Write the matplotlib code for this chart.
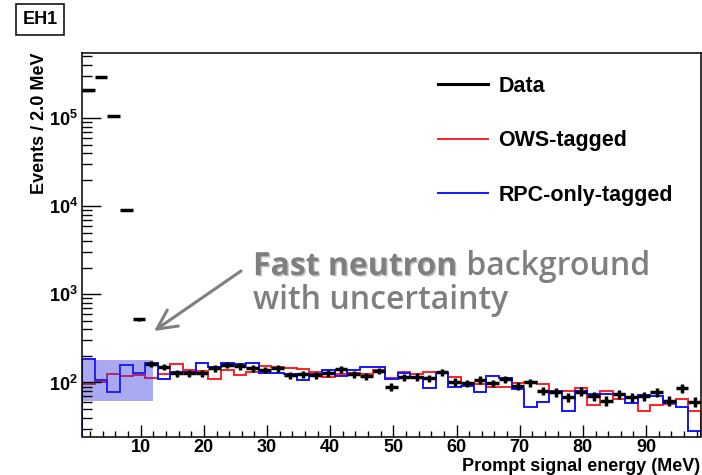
import numpy as np
import matplotlib
matplotlib.use("Agg")
import matplotlib.pyplot as plt
from matplotlib.ticker import MultipleLocator, LogLocator, NullFormatter, FuncFormatter
from matplotlib.lines import Line2D
import matplotlib.patheffects as pe

plt.rcParams['font.family'] = ['Liberation Sans', 'DejaVu Sans']
plt.rcParams['font.weight'] = 'bold'
plt.rcParams['mathtext.fontset'] = 'custom'
plt.rcParams['mathtext.rm'] = 'Liberation Sans:bold'
plt.rcParams['mathtext.bf'] = 'Liberation Sans:bold'
plt.rcParams['mathtext.it'] = 'Liberation Sans:bold'

# 2 MeV bins from 0.7 to 98.7 MeV
edges = 0.7 + 2.0 * np.arange(50)

data = [2.06e5, 2.91e5, 1.05e5, 9100, 521, 162, 151, 127, 127, 127,
        145, 158, 152, 145, 139, 145, 122, 124, 122, 127,
        141, 124, 118, 136, 90, 115, 116, 112, 130, 102,
        98, 107, 98, 109, 92, 100, 81, 77, 68, 79,
        70, 62, 74, 68, 70, 77, 62, 86, 60]

ows = [96, 100, 124, 119, 121, 113, 125, 161, 137, 135,
       109, 139, 122, 132, 152, 150, 145, 142, 130, 114,
       124, 127, 124, 139, 111, 130, 125, 130, 127, 115,
       98, 96, 88, 88, 98, 101, 95, 80, 81, 87,
       55, 81, 65, 69, 47, 55, 57, 65, 48]

rpc = [185, 107, 77, 157, 127, 168, 110, 131, 131, 165,
       148, 168, 161, 165, 129, 127, 124, 107, 124, 139,
       118, 139, 151, 151, 109, 127, 116, 87, 127, 90,
       92, 79, 118, 112, 84, 53, 60, 80, 48, 80,
       75, 74, 75, 59, 72, 71, 59, 53, 28]

# fast neutron estimate band (MeV range, event range)
band_x = [0.7, 12.0]
band_lo = 62
band_hi = 180

data = np.array(data, dtype=float)
centers = 0.5 * (edges[:-1] + edges[1:])
errs = np.sqrt(data)

fig = plt.figure(figsize=(7.02, 4.75), dpi=100)
ax = fig.add_axes([82 / 702, 1 - 436.5 / 475, (701 - 82) / 702, (436.5 - 52.7) / 475])

ax.stairs(ows, edges, color='#ff2020', lw=1.4, label='OWS-tagged')
ax.stairs(rpc, edges, color='#1515ff', lw=1.4, label='RPC-only-tagged')
ax.fill_between(band_x, band_lo, band_hi, color='#3434e0', alpha=0.42, lw=0)
ax.errorbar(centers, data, xerr=1.0, yerr=errs, fmt='none', ecolor='k',
            elinewidth=2.5, capsize=0)

ax.set_yscale('log')
ax.set_xlim(edges[0], edges[-1])
ax.set_ylim(24.4, 5.5e5)

ax.xaxis.set_major_locator(MultipleLocator(10))
ax.xaxis.set_minor_locator(MultipleLocator(2))
ax.yaxis.set_major_locator(LogLocator(base=10))
ax.yaxis.set_minor_locator(LogLocator(base=10, subs=np.arange(2, 10)))
ax.yaxis.set_minor_formatter(NullFormatter())
ax.yaxis.set_major_formatter(FuncFormatter(lambda v, p: r'$10^{%d}$' % round(np.log10(v))))

ax.tick_params(which='both', direction='in', top=False, right=False,
               width=1.0, labelsize=13)
ax.tick_params(axis='x', which='major', length=8.5, pad=2)
ax.tick_params(axis='x', which='minor', length=4.5)
ax.tick_params(axis='y', which='major', length=13.5, pad=3)
ax.tick_params(axis='y', which='minor', length=7)
for s in ax.spines.values():
    s.set_linewidth(1.1)

fig.text(40 / 702, 1 - 52 / 475, 'Events / 2.0 MeV', rotation=90,
         ha='center', va='top', fontsize=13, fontweight='bold')
fig.text(700 / 702, 1 - 471 / 475, 'Prompt signal energy (MeV)',
         ha='right', va='baseline', fontsize=13, fontweight='bold')

fig.text(40 / 702, 1 - 19.5 / 475, 'EH1', ha='center', va='center',
         fontsize=13, fontweight='bold',
         bbox=dict(boxstyle='square,pad=0.38', fc='white', ec='black', lw=1.1))

handles = [Line2D([], [], color='k', lw=2.2, label='Data')]
handles += ax.get_legend_handles_labels()[0]
ax.legend(handles=handles, loc='upper left',
          bbox_to_anchor=(438 / 702, 1 - 76 / 475), bbox_transform=fig.transFigure,
          frameon=False, fontsize=15.5, handlelength=2.3, handletextpad=0.5,
          labelspacing=1.55, borderpad=0, borderaxespad=0)

grey = '#7f7f7f'
ann_font = ['Open Sans', 'DejaVu Sans']
t1 = fig.text(253 / 702, 1 - 275 / 475, 'Fast neutron', fontsize=23,
              family=ann_font, fontweight='bold', color=grey, va='baseline',
              path_effects=[pe.withSimplePatchShadow(offset=(1, -1), alpha=0.35,
                                                     shadow_rgbFace='#555555')])
ax.annotate(' background', xy=(1, 0), xycoords=t1, va='bottom', ha='left',
            fontsize=23, family=ann_font, fontweight='semibold',
            color=grey, annotation_clip=False)
fig.text(253 / 702, 1 - 309 / 475, 'with uncertainty', fontsize=23,
         family=ann_font, fontweight='semibold', color=grey, va='baseline')

ax.annotate('', xy=(154, 475 - 331), xycoords='figure pixels',
            xytext=(241, 475 - 271), textcoords='figure pixels',
            arrowprops=dict(arrowstyle='->,head_length=0.7,head_width=0.35',
                            color=grey, lw=2.2, mutation_scale=20,
                            shrinkA=0, shrinkB=0))

fig.savefig('out.png', dpi=100)
